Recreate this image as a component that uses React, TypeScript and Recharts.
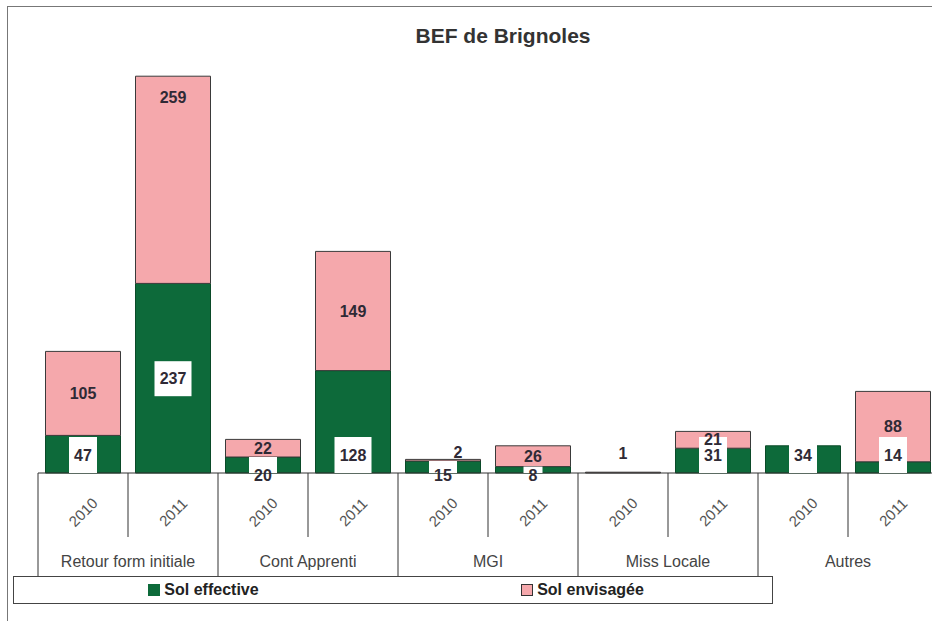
import React from 'react';
import { Bar, BarChart, LabelList, XAxis, YAxis } from 'recharts';

// categories and values
const categories = ['Retour form initiale', 'Cont Apprenti', 'MGI', 'Miss Locale', 'Autres'];
const years = ['2010', '2011'];
const solEffective = [47, 237, 20, 128, 15, 8, 0, 31, 34, 14];
const solEnvisagee = [105, 259, 22, 149, 2, 26, 1, 21, 0, 88];

const GREEN = '#0d6a3a';
const PINK = '#f5a8ac';
const LABEL_COLOR = '#2f2a35';
const FONT = '"Liberation Sans", Arial, sans-serif';

const CHART_W = 940;
const CHART_H = 621;
const MARGIN = { top: 33, right: 2, left: 38, bottom: 0 };
const SLOT = (CHART_W - MARGIN.left - MARGIN.right) / (categories.length * years.length);

const chartData = categories.flatMap((cat, ci) =>
  years.map((year, yi) => {
    const i = ci * years.length + yi;
    return { key: `${cat}-${year}`, cat, year, eff: solEffective[i], env: solEnvisagee[i] };
  }),
);

function boxOf(props: any) {
  const vb = props.viewBox ?? props;
  const x = Number(vb.x);
  const w = Number(vb.width);
  let y = Number(vb.y);
  let h = Number(vb.height);
  if (h < 0) {
    y += h;
    h = -h;
  }
  return { x, y, w, h };
}

// the label index skips empty bars, so find the row from the bar position
function rowAt(x: number, w: number) {
  const i = Math.floor((x + w / 2 - MARGIN.left) / SLOT);
  return chartData[i];
}

function EffLabel(props: any) {
  const { value } = props;
  if (!value) return null;
  const { x, y, w, h } = boxOf(props);
  const cx = x + w / 2;
  const bottom = y + h;
  const row = rowAt(x, w);
  const pinkH = row && row.eff ? (row.env / row.eff) * h : 0;
  const text = String(value);
  const bw = text.length * 9 + 10;
  let ty: number;
  let by: number;
  let bh: number;
  if (h > 150) {
    ty = y + h / 2;
    by = ty - 17;
    bh = 35;
  } else if (h < 20 && pinkH < 40) {
    // small bar: number sits just under the baseline, gap cut in the bar
    ty = bottom + 2;
    by = y;
    bh = h;
  } else {
    ty = bottom - 18;
    by = bottom - 36;
    bh = 36;
  }
  return (
    <g>
      <rect x={cx - bw / 2} y={by} width={bw} height={bh} fill="#fff" />
      <text
        x={cx}
        y={ty}
        textAnchor="middle"
        dominantBaseline="central"
        fontFamily={FONT}
        fontWeight="bold"
        fontSize={16}
        fill={LABEL_COLOR}
      >
        {text}
      </text>
    </g>
  );
}

function EnvLabel(props: any) {
  const { value } = props;
  if (!value) return null;
  const { x, y, w, h } = boxOf(props);
  const row = rowAt(x, w);
  let cx = x + w / 2;
  let ty: number;
  if (h > 150) {
    ty = y + 21;
  } else if (h < 8) {
    if (row && row.eff) {
      ty = y - 7;
      cx += 15;
    } else {
      ty = y + h - 20;
    }
  } else {
    ty = y + h / 2;
  }
  return (
    <text
      x={cx}
      y={ty}
      textAnchor="middle"
      dominantBaseline="central"
      fontFamily={FONT}
      fontWeight="bold"
      fontSize={16}
      fill={LABEL_COLOR}
    >
      {value}
    </text>
  );
}

function AxisTick(props: any) {
  const { x, y, index } = props;
  const row = chartData[index];
  if (!row) return null;
  const half = SLOT / 2;
  const isFirstYear = index % years.length === 0;
  const isLastYear = index % years.length === years.length - 1;
  return (
    <g>
      {index === 0 && <line x1={x - half} y1={y} x2={x - half} y2={y + 104} stroke="#333" />}
      <line
        x1={x + half}
        y1={y}
        x2={x + half}
        y2={y + (isLastYear ? 104 : 64)}
        stroke="#333"
      />
      <text
        x={x}
        y={y + 39}
        textAnchor="middle"
        dominantBaseline="central"
        transform={`rotate(-45 ${x} ${y + 39})`}
        fontFamily={FONT}
        fontSize={15}
        fill="#555"
      >
        {row.year}
      </text>
      {isFirstYear && (
        <text
          x={x + half}
          y={y + 88}
          textAnchor="middle"
          dominantBaseline="central"
          fontFamily={FONT}
          fontSize={16}
          fill="#444"
        >
          {row.cat}
        </text>
      )}
    </g>
  );
}

function LegendBox() {
  const item = (color: string, border: string, label: string) => (
    <div
      style={{
        flex: 1,
        display: 'flex',
        alignItems: 'center',
        justifyContent: 'center',
        gap: 4,
      }}
    >
      <span
        style={{
          display: 'inline-block',
          width: 10,
          height: 10,
          background: color,
          border: `1px solid ${border}`,
        }}
      />
      <span style={{ fontWeight: 'bold', fontSize: 16, color: '#222' }}>{label}</span>
    </div>
  );
  return (
    <div
      style={{
        position: 'absolute',
        left: 13,
        top: 576,
        width: 758,
        height: 26,
        border: '1px solid #444',
        background: '#fff',
        display: 'flex',
        fontFamily: FONT,
      }}
    >
      {item(GREEN, GREEN, 'Sol effective')}
      {item(PINK, '#333', 'Sol envisagée')}
    </div>
  );
}

export default function App() {
  return (
    <div
      style={{
        position: 'absolute',
        left: 0,
        top: 0,
        width: 932,
        height: 621,
        overflow: 'hidden',
        background: '#fff',
        fontFamily: FONT,
      }}
    >
      <div
        style={{
          position: 'absolute',
          left: 7,
          top: 6,
          width: 1000,
          height: 700,
          borderTop: '1px solid #777',
          borderLeft: '1px solid #777',
        }}
      />
      <div
        style={{
          position: 'absolute',
          left: 0,
          top: 24,
          width: 1006,
          textAlign: 'center',
          fontSize: 21,
          fontWeight: 'bold',
          color: '#333',
        }}
      >
        BEF de Brignoles
      </div>
      <div style={{ position: 'absolute', left: 0, top: 0 }}>
        <BarChart
          width={CHART_W}
          height={CHART_H}
          data={chartData}
          margin={MARGIN}
          barCategoryGap={7.5}
        >
          <XAxis
            dataKey="key"
            interval={0}
            height={148}
            tickSize={0}
            tickMargin={0}
            tickLine={false}
            axisLine={{ stroke: '#333' }}
            tick={<AxisTick />}
          />
          <YAxis hide domain={[0, 550]} />
          <Bar
            dataKey="eff"
            stackId="s"
            fill={GREEN}
            stroke="#0a4a28"
            strokeWidth={1}
            isAnimationActive={false}
          >
            <LabelList dataKey="eff" content={<EffLabel />} />
          </Bar>
          <Bar
            dataKey="env"
            stackId="s"
            fill={PINK}
            stroke="#3a3a3a"
            strokeWidth={1}
            isAnimationActive={false}
          >
            <LabelList dataKey="env" content={<EnvLabel />} />
          </Bar>
        </BarChart>
      </div>
      <LegendBox />
    </div>
  );
}
